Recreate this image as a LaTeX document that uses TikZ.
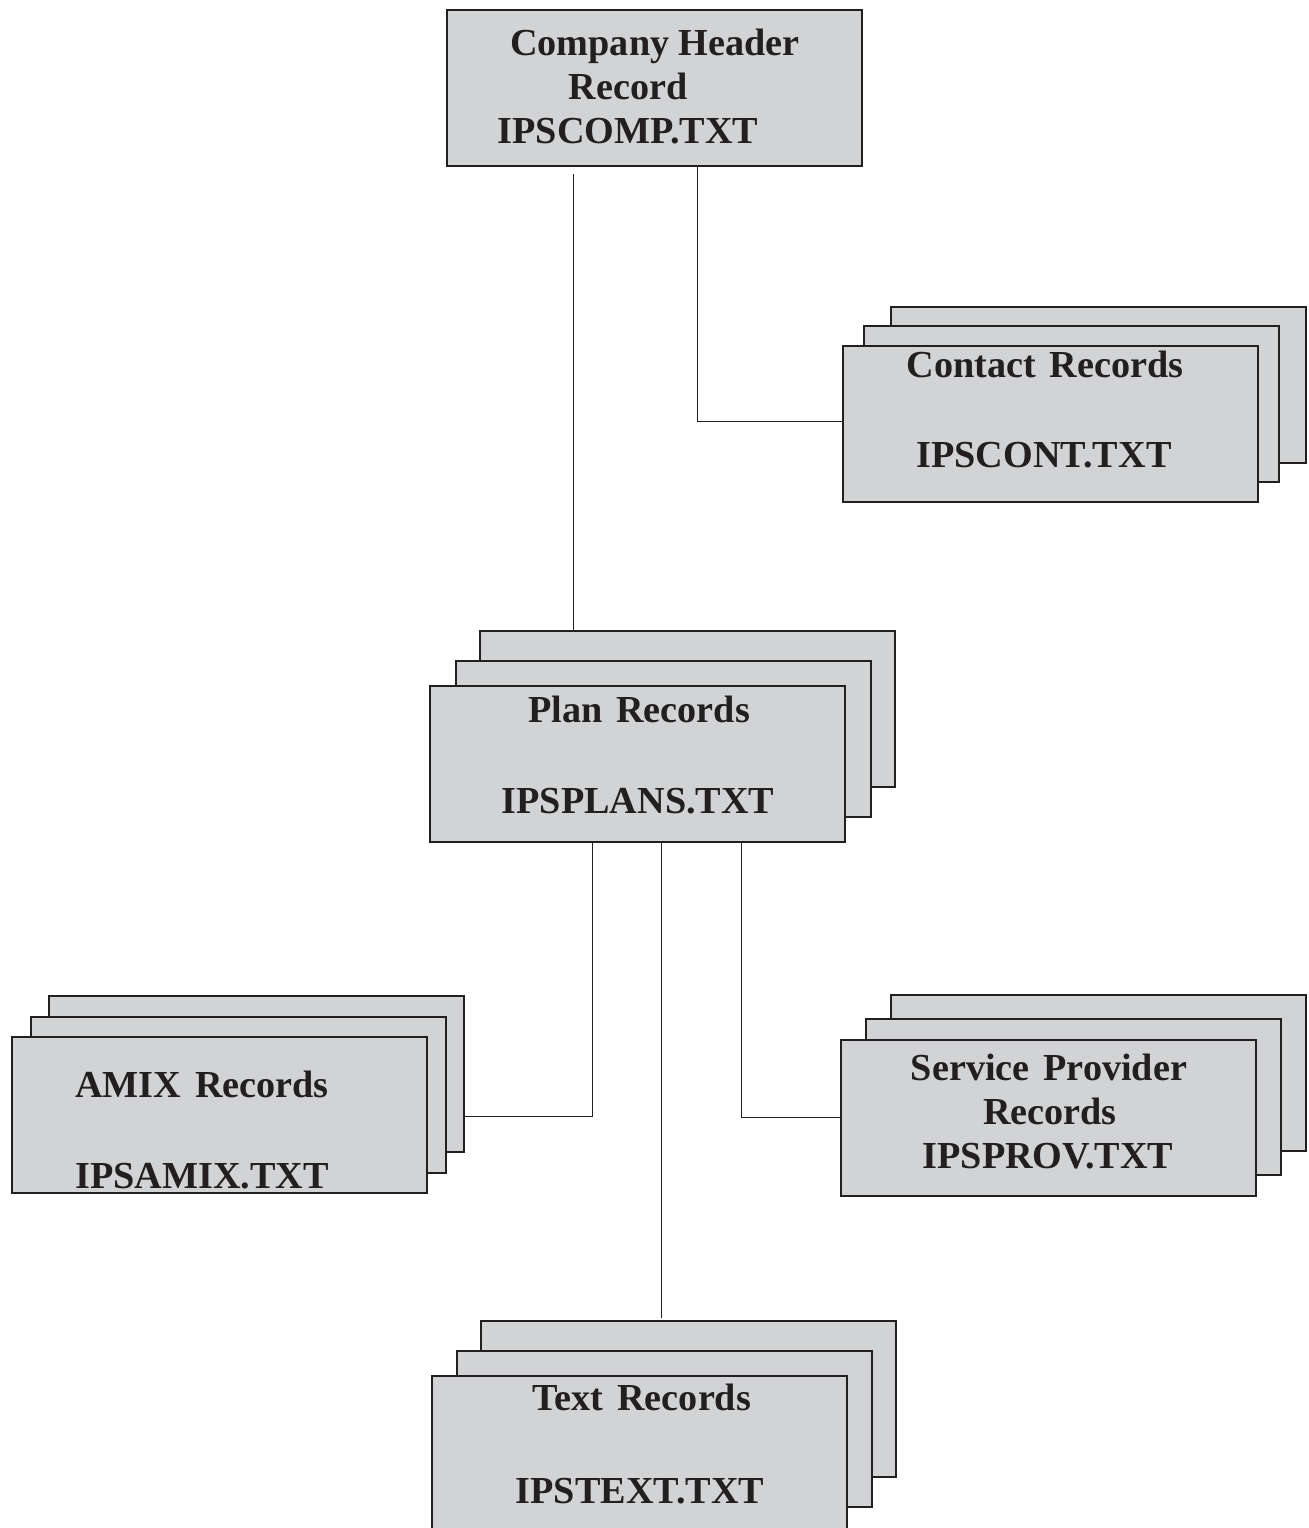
\documentclass[tikz,border=0pt]{standalone}
\usepackage{fontspec}
\setmainfont{Liberation Serif}
\definecolor{boxfill}{HTML}{D1D3D5}
\definecolor{ink}{HTML}{231F20}
\newcommand{\wgap}{\hspace{0.36em}}
\begin{document}
\begin{tikzpicture}[x=0.5pt,y=-0.5pt,
  recbox/.style={draw=ink, fill=boxfill, line width=1.4pt, minimum width=207.5pt, minimum height=78pt, inner sep=0pt, outer sep=0pt},
  lbl/.style={anchor=base, inner sep=0pt, text=ink, font=\fontsize{19.1}{22}\selectfont\bfseries},
  conn/.style={draw=ink, line width=0.5pt}]
\useasboundingbox (0,0) rectangle (1309,1528);
\clip (0,0) rectangle (1309,1528);
% top box
\node[recbox] (top) at (654.5,88) {};
\node[lbl] (t1) at (655,55) {Company Header};
\node[lbl] (t2) at (628,99) {Record};
\node[lbl] (t3) at (628,143) {IPSCOMP.TXT};
% contact stack
\node[recbox] (contC) at (1098.5,385) {};
\node[recbox] (contB) at (1071.5,404) {};
\node[recbox] (contA) at (1050.5,424) {};
\node[lbl] (c1) at (1045,377) {Contact\wgap Records};
\node[lbl] (c2) at (1044,467) {IPSCONT.TXT};
% plan stack
\node[recbox] (planC) at (687.5,709) {};
\node[recbox] (planB) at (663.5,739) {};
\node[recbox] (planA) at (637.5,764) {};
\node[lbl] (p1) at (639,722) {Plan\wgap Records};
\node[lbl] (p2) at (638,813) {IPSPLANS.TXT};
% amix stack
\node[recbox] (amixC) at (256.5,1074) {};
\node[recbox] (amixB) at (238.5,1095) {};
\node[recbox] (amixA) at (219.5,1115) {};
\node[lbl] (a1) at (202,1097) {AMIX\wgap Records};
\node[lbl] (a2) at (202,1188) {IPSAMIX.TXT};
% service provider stack
\node[recbox] (provC) at (1098.5,1073) {};
\node[recbox] (provB) at (1073.5,1097) {};
\node[recbox] (provA) at (1048.5,1118) {};
\node[lbl] (s1) at (1049,1080) {Service\wgap Provider};
\node[lbl] (s2) at (1050,1124) {Records};
\node[lbl] (s3) at (1048,1168) {IPSPROV.TXT};
% text stack
\node[recbox] (textC) at (688.5,1399) {};
\node[recbox] (textB) at (664.5,1429) {};
\node[recbox] (textA) at (639.5,1454) {};
\node[lbl] (x1) at (642,1410) {Text\wgap Records};
\node[lbl] (x2) at (640,1503) {IPSTEXT.TXT};
% connectors
\coordinate (k1) at (573,174);
\coordinate (k2) at (697,421);
\coordinate (k3) at (592,1116);
\coordinate (k4) at (661,1318);
\coordinate (k5) at (741,1117);
\draw[conn] (k1) -- (k1 |- planC.north);
\draw[conn] (top.south -| k2) -- (k2) -- (k2 -| contA.west);
\draw[conn] (planA.south -| k3) -- (k3) -- (k3 -| amixC.east);
\draw[conn] (planA.south -| k4) -- (k4);
\draw[conn] (planA.south -| k5) -- (k5) -- (k5 -| provA.west);
\end{tikzpicture}
\end{document}
